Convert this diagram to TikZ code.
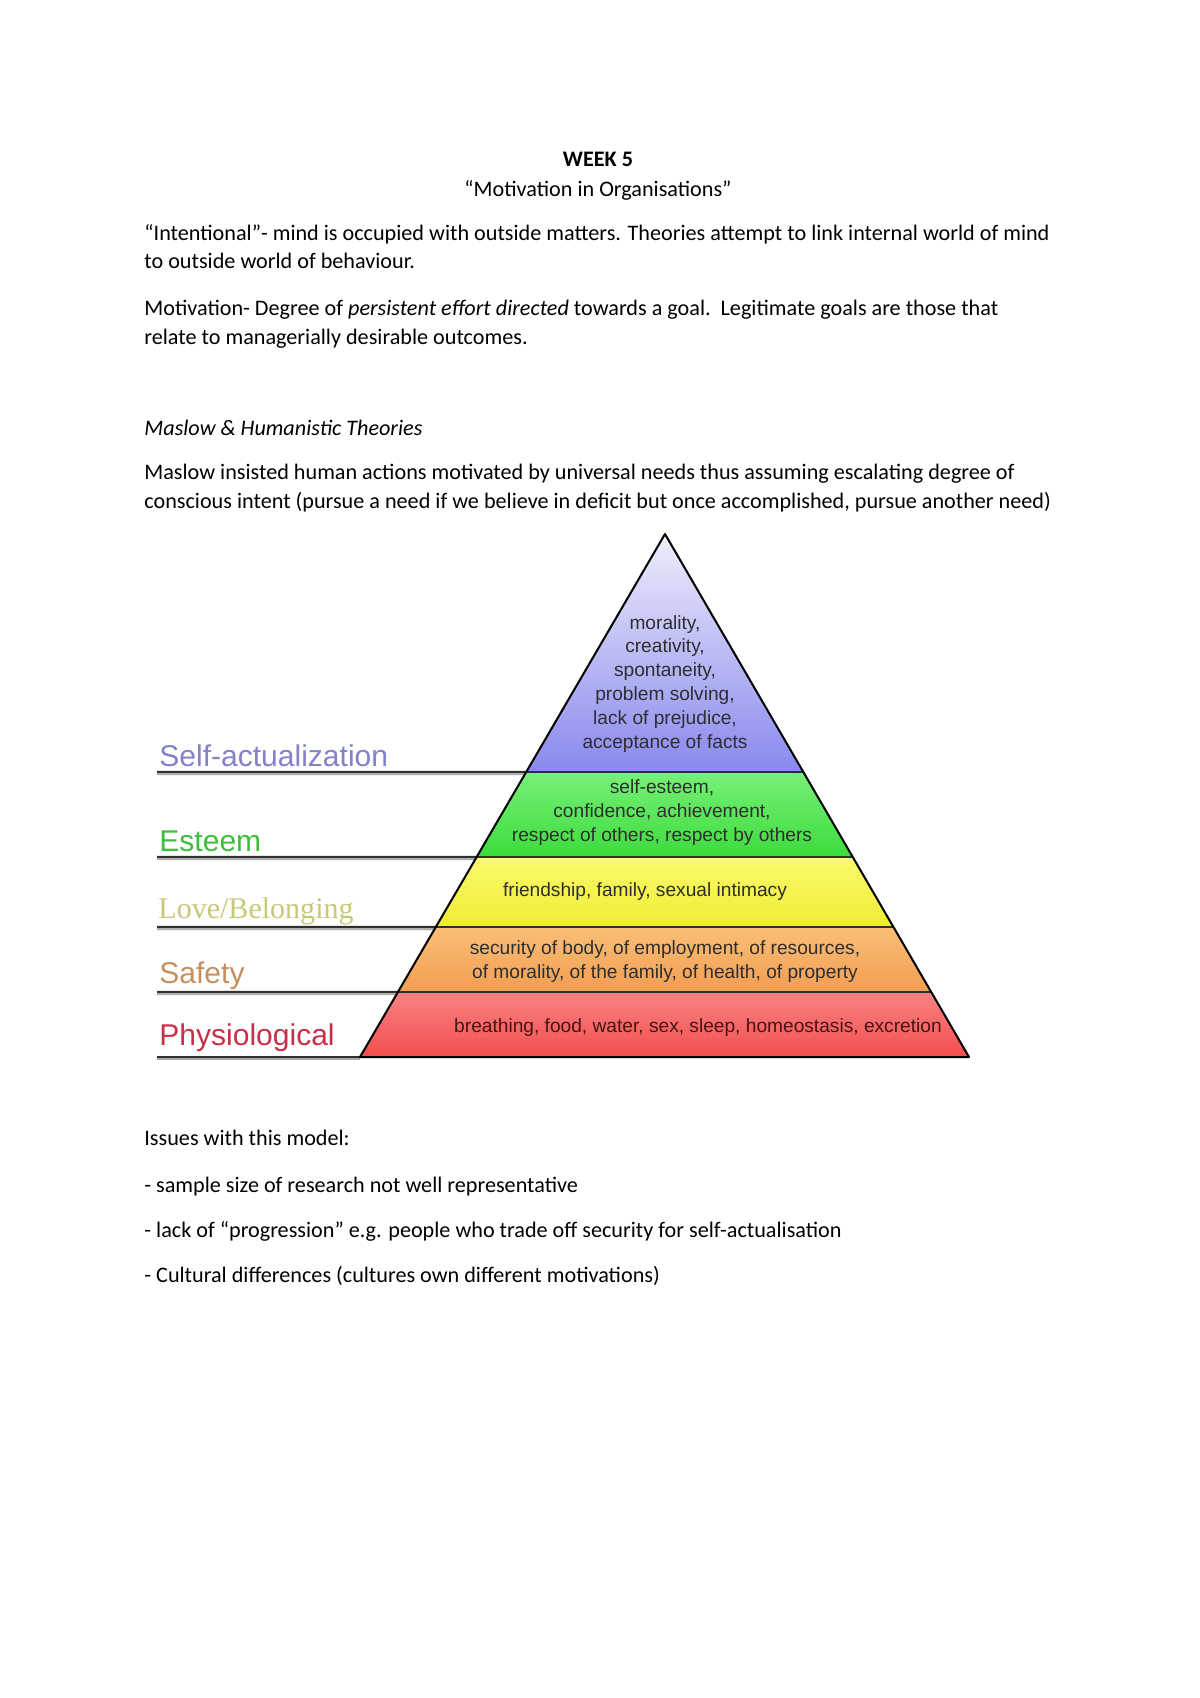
\documentclass[tikz,border=0pt]{standalone}
\usepackage{fontspec}
\setmainfont{Carlito}
\newfontfamily\arialf{Liberation Sans}
\newfontfamily\timesf{Liberation Serif}
\usetikzlibrary{calc}
\definecolor{sepdark}{HTML}{303030}
\definecolor{sepshadow}{HTML}{A8A8A8}
\definecolor{innertext}{HTML}{2E2E2E}
\definecolor{lblblue}{HTML}{8282C8}
\definecolor{lblgreen}{HTML}{3CC03C}
\definecolor{lblyellow}{HTML}{C8C878}
\definecolor{lblorange}{HTML}{C49060}
\definecolor{lblred}{HTML}{C83048}
\begin{document}
\begin{tikzpicture}[x=0.49606pt,y=-0.49606pt,
  body/.style={anchor=base west, inner sep=0pt, font=\fontsize{11}{13}\selectfont},
  bodyc/.style={anchor=base, inner sep=0pt, font=\fontsize{11}{13}\selectfont},
  lvl/.style={anchor=base west, inner sep=0pt, font=\arialf\fontsize{14.9}{16}\selectfont},
  innertxt/.style={anchor=base, inner sep=0pt, align=center, font=\arialf\fontsize{9.5}{11.8}\selectfont, text=innertext},
  sepline/.style={draw=sepdark, line width=1.2pt},
  shadowline/.style={draw=sepshadow, line width=0.9pt},
  edge/.style={draw=black, line width=1pt, line join=round}
]
\path[use as bounding box, fill=white] (0,0) rectangle (1200,1698);

% ---------- text above ----------
\node[bodyc, font=\bfseries\fontsize{11}{13}\selectfont] (week) at (598,166) {WEEK 5};
\node[bodyc] (title) at (598,196) {“Motivation in Organisations”};
\node[body] (p1a) at (144,240) {“Intentional”- mind is occupied with outside matters. Theories attempt to link internal world of mind};
\node[body] (p1b) at (144,268) {to outside world of behaviour.};
\node[body] (p2a) at (144,315) {Motivation- Degree of \textit{persistent effort directed} towards a goal.\ \ Legitimate goals are those that};
\node[body] (p2b) at (144,344) {relate to managerially desirable outcomes.};
\node[body, font=\itshape\fontsize{11}{13}\selectfont] (sub) at (144,435) {Maslow \& Humanistic Theories};
\node[body] (p3a) at (144,479) {Maslow insisted human actions motivated by universal needs thus assuming escalating degree of};
\node[body] (p3b) at (144,508) {conscious intent (pursue a need if we believe in deficit but once accomplished, pursue another need)};

% ---------- pyramid geometry ----------
\coordinate (A) at (665,534);
\coordinate (BL) at (360,1057);
\coordinate (BR) at (969,1057);
\coordinate (L1) at ($(A)!0.4551!(BL)$);
\coordinate (R1) at ($(A)!0.4551!(BR)$);
\coordinate (L2) at ($(A)!0.6176!(BL)$);
\coordinate (R2) at ($(A)!0.6176!(BR)$);
\coordinate (L3) at ($(A)!0.7514!(BL)$);
\coordinate (R3) at ($(A)!0.7514!(BR)$);
\coordinate (L4) at ($(A)!0.8757!(BL)$);
\coordinate (R4) at ($(A)!0.8757!(BR)$);

% left label lines
\coordinate (s1) at (157,772);
\coordinate (s2) at (157,857);
\coordinate (s3) at (157,927);
\coordinate (s4) at (157,992);
\coordinate (s5) at (157,1057);
\foreach \s/\e in {s1/L1,s2/L2,s3/L3,s4/L4,s5/BL}{
  \draw[shadowline] ($(\s)+(0,2.2)$) -- ($(\e)+(0,2.2)$);
  \draw[sepline] (\s) -- (\e);
}

% layers
\shade[top color={rgb,255:red,238;green,238;blue,252}, bottom color={rgb,255:red,136;green,136;blue,238}] (A) -- (R1) -- (L1) -- cycle;
\shade[top color={rgb,255:red,120;green,240;blue,120}, bottom color={rgb,255:red,60;green,220;blue,60}] (L1) -- (R1) -- (R2) -- (L2) -- cycle;
\shade[top color={rgb,255:red,250;green,250;blue,110}, bottom color={rgb,255:red,240;green,236;blue,50}] (L2) -- (R2) -- (R3) -- (L3) -- cycle;
\shade[top color={rgb,255:red,250;green,190;blue,120}, bottom color={rgb,255:red,242;green,158;blue,80}] (L3) -- (R3) -- (R4) -- (L4) -- cycle;
\shade[top color={rgb,255:red,250;green,130;blue,130}, bottom color={rgb,255:red,242;green,78;blue,78}] (L4) -- (R4) -- (BR) -- (BL) -- cycle;

% separators and outline
\draw[sepline] (L1) -- (R1);
\draw[sepline] (L2) -- (R2);
\draw[sepline] (L3) -- (R3);
\draw[sepline] (L4) -- (R4);
\draw[edge] (A) -- (BR) -- (BL) -- cycle;

% level labels
\node[lvl, text=lblblue] (lsa) at (159,766) {Self-actualization};
\node[lvl, text=lblgreen] (les) at (159,851) {Esteem};
\node[lvl, text=lblyellow, font=\timesf\fontsize{14.9}{16}\selectfont] (llb) at (158,918) {Love/Belonging};
\node[lvl, text=lblorange] (lsf) at (159,983) {Safety};
\node[lvl, text=lblred] (lph) at (159,1045) {Physiological};

% inner texts (anchor = baseline of last line)
\node[innertxt] (tsa) at (665,748) {morality,\\creativity,\\spontaneity,\\problem solving,\\lack of prejudice,\\acceptance of facts};
\node[innertxt] (tes) at (662,841) {self-esteem,\\confidence, achievement,\\respect of others, respect by others};
\node[innertxt] (tlb) at (645,896) {friendship, family, sexual intimacy};
\node[innertxt] (tsf) at (665,978) {security of body, of employment, of resources,\\of morality, of the family, of health, of property};
\node[innertxt, text={rgb,255:red,70;green,20;blue,20}] (tph) at (698,1032) {breathing, food, water, sex, sleep, homeostasis, excretion};

% ---------- text below ----------
\node[body] (q0) at (144,1145) {Issues with this model:};
\node[body] (q1) at (144,1192) {- sample size of research not well representative};
\node[body] (q2) at (144,1237) {- lack of “progression” e.g. people who trade off security for self-actualisation};
\node[body] (q3) at (144,1282) {- Cultural differences (cultures own different motivations)};
\end{tikzpicture}
\end{document}
